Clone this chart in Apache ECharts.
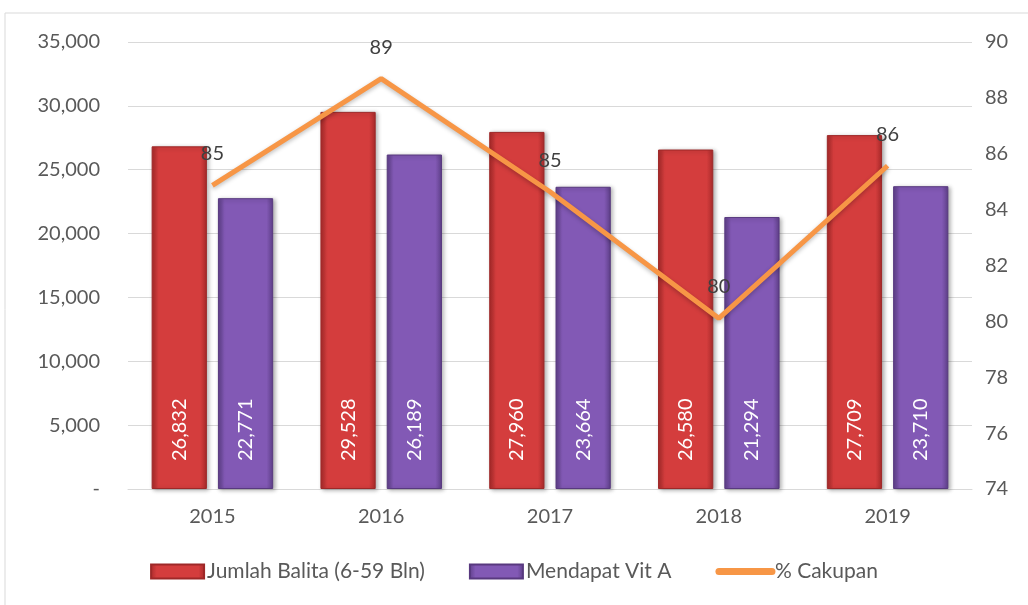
<!DOCTYPE html>
<html>
<head>
<meta charset="utf-8">
<script src="https://cdn.jsdelivr.net/npm/echarts@6/dist/echarts.min.js"></script>
<style>
  html, body { margin: 0; padding: 0; background: #fff; }
  #chart { width: 1028px; height: 605px; }
</style>
</head>
<body>
<div id="chart"></div>
<script>
var years = ['2015', '2016', '2017', '2018', '2019'];
var jumlahBalita = [26832, 29528, 27960, 26580, 27709];
var mendapatVitA = [22771, 26189, 23664, 21294, 23710];
var cakupan = [84.87, 88.69, 84.64, 80.11, 85.57];

var myChart = echarts.init(document.getElementById('chart'));

function fmt(v) {
    return v.toString().replace(/\B(?=(\d{3})+(?!\d))/g, ',');
}

function barGradient(edge, mid) {
    return new echarts.graphic.LinearGradient(0, 0, 1, 0, [
        { offset: 0, color: edge },
        { offset: 0.12, color: mid },
        { offset: 0.88, color: mid },
        { offset: 1, color: edge }
    ]);
}

var barLabel = {
    show: true,
    position: 'insideBottom',
    rotate: 90,
    align: 'left',
    verticalAlign: 'middle',
    distance: 28,
    color: '#ffffff',
    fontSize: 20,
    fontFamily: 'Lato',
    formatter: function (p) { return fmt(p.value); }
};

var option = {
    backgroundColor: '#ffffff',
    textStyle: { fontFamily: 'Lato' },
    graphic: [{
        type: 'rect',
        shape: { x: 5, y: 13, width: 1100, height: 700 },
        style: { fill: 'none', stroke: '#d9d9d9', lineWidth: 1 },
        silent: true,
        z: -1
    }],
    grid: { left: 128, right: 56, top: 42, bottom: 116 },
    legend: {
        bottom: 18,
        left: 'center',
        itemWidth: 53,
        itemHeight: 14,
        itemGap: 44,
        textStyle: { fontSize: 21, color: '#595959', fontFamily: 'Lato', padding: [0, 0, 0, -2] },
        data: [
            { name: 'Jumlah Balita (6-59 Bln)', icon: 'rect' },
            { name: 'Mendapat Vit A', icon: 'rect' },
            { name: '% Cakupan', lineStyle: { width: 7, cap: 'round' } }
        ]
    },
    xAxis: {
        type: 'category',
        data: years,
        axisLine: { lineStyle: { color: '#d9d9d9' } },
        axisTick: { show: false },
        axisLabel: { color: '#595959', fontSize: 20, margin: 18 }
    },
    yAxis: [{
        type: 'value',
        min: 0,
        max: 35000,
        interval: 5000,
        axisLine: { show: false },
        axisTick: { show: false },
        splitLine: { lineStyle: { color: '#d9d9d9' } },
        axisLabel: {
            color: '#595959',
            fontSize: 20,
            margin: 28,
            formatter: function (v) { return v === 0 ? '-' : fmt(v); }
        }
    }, {
        type: 'value',
        min: 74,
        max: 90,
        interval: 2,
        axisLine: { show: false },
        axisTick: { show: false },
        splitLine: { show: false },
        axisLabel: { color: '#595959', fontSize: 20, margin: 13 }
    }],
    series: [{
        name: 'Jumlah Balita (6-59 Bln)',
        type: 'bar',
        data: jumlahBalita,
        barGap: '20%',
        barCategoryGap: '28%',
        itemStyle: {
            color: barGradient('#a82a2a', '#d43d3d'),
            borderColor: '#9e2828',
            borderWidth: 1,
            shadowColor: 'rgba(0,0,0,0.3)',
            shadowBlur: 4,
            shadowOffsetX: 2,
            shadowOffsetY: 1
        },
        label: barLabel
    }, {
        name: 'Mendapat Vit A',
        type: 'bar',
        data: mendapatVitA,
        itemStyle: {
            color: barGradient('#5e3f88', '#8259b5'),
            borderColor: '#58397f',
            borderWidth: 1,
            shadowColor: 'rgba(0,0,0,0.3)',
            shadowBlur: 4,
            shadowOffsetX: 2,
            shadowOffsetY: 1
        },
        label: barLabel
    }, {
        name: '% Cakupan',
        type: 'line',
        yAxisIndex: 1,
        data: cakupan,
        symbol: 'circle',
        symbolSize: 1,
        itemStyle: { color: 'rgba(0,0,0,0)' },
        lineStyle: {
            color: '#f79646',
            width: 5,
            shadowColor: 'rgba(0,0,0,0.25)',
            shadowBlur: 4,
            shadowOffsetY: 2
        },
        label: {
            show: true,
            position: 'top',
            distance: 21,
            color: '#404040',
            fontSize: 20,
            formatter: function (p) { return Math.round(p.value); }
        },
        z: 5
    }]
};

myChart.setOption(option);
</script>
</body>
</html>
